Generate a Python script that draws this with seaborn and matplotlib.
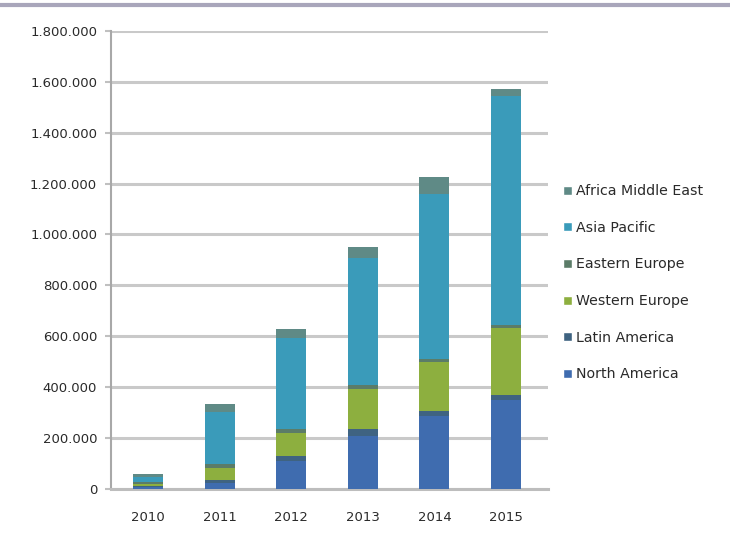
import matplotlib
matplotlib.use("Agg")
import matplotlib.pyplot as plt
import seaborn as sns
import numpy as np
from matplotlib.lines import Line2D
from matplotlib.patches import Patch

years = ['2010', '2011', '2012', '2013', '2014', '2015']

# bottom -> top of the stack
north_america = [8000, 24000, 111000, 209000, 288000, 348000]
latin_america = [6000, 10000, 19000, 28000, 20000, 20000]
western_europe = [6000, 50000, 91000, 158000, 190000, 265000]
eastern_europe = [7000, 14000, 16000, 12000, 12000, 12000]
asia_pacific = [20000, 205000, 356000, 502000, 650000, 900000]
africa_middle_east = [12000, 33000, 35000, 43000, 65000, 28000]

regions = ['North America', 'Latin America', 'Western Europe',
           'Eastern Europe', 'Asia Pacific', 'Africa Middle East']
series = [north_america, latin_america, western_europe,
          eastern_europe, asia_pacific, africa_middle_east]
colors = ['#3F6CAF', '#3F6381', '#8DAF3F', '#5B7C68', '#3A9BBA', '#5F8A86']

yticks = [0, 200000, 400000, 600000, 800000, 1000000, 1200000, 1400000, 1600000, 1800000]
yticklabels = ['0', '200.000', '400.000', '600.000', '800.000', '1.000.000',
               '1.200.000', '1.400.000', '1.600.000', '1.800.000']

sns.set_style('white')
plt.rcParams['font.family'] = ['DejaVu Sans']

fig = plt.figure(figsize=(7.3, 5.41), dpi=100)
ax = fig.add_axes([0.152, 0.096, 0.599, 0.847])

cum = np.cumsum(np.array(series), axis=0)
# draw tallest cumulative first so lower segments sit on top of it
for i in range(len(regions) - 1, -1, -1):
    sns.barplot(x=years, y=cum[i], color=colors[i], width=0.42, saturation=1,
                ax=ax, zorder=3, linewidth=0, edgecolor='none')

ax.set(ylim=(0, 1800000), xlim=(-0.52, 5.59), xlabel='', ylabel='')
ax.set_yticks(yticks)
ax.set_yticklabels(yticklabels)
ax.yaxis.grid(True, color='#C9C9C9', linewidth=2.2, zorder=0)
ax.set_axisbelow(True)
for side in ['top', 'right']:
    ax.spines[side].set_visible(False)
ax.spines['left'].set_color('#A8A8A8')
ax.spines['left'].set_linewidth(1.5)
ax.spines['bottom'].set_color('#BDBDBD')
ax.spines['bottom'].set_linewidth(2.2)
ax.tick_params(axis='y', left=True, length=4, width=1.5, color='#C0C0C0',
               labelsize=9.5, labelcolor='#2A2A2A', pad=6)
ax.tick_params(axis='x', bottom=False, labelsize=9.5, labelcolor='#2A2A2A', pad=12)

handles = [Patch(facecolor=colors[i], label=regions[i]) for i in range(len(regions) - 1, -1, -1)]
fig.legend(handles=handles, loc='upper left', bbox_to_anchor=(563 / 730, 1 - 184 / 541),
           frameon=False, fontsize=10.2, labelcolor='#2A2A2A', handlelength=0.6,
           handleheight=0.6, handletextpad=0.3, labelspacing=1.6,
           borderaxespad=0, borderpad=0)

fig.add_artist(Line2D([0, 1], [0.991, 0.991], transform=fig.transFigure,
                      color='#A9A6BB', linewidth=3))

fig.savefig('out.png', dpi=100)
